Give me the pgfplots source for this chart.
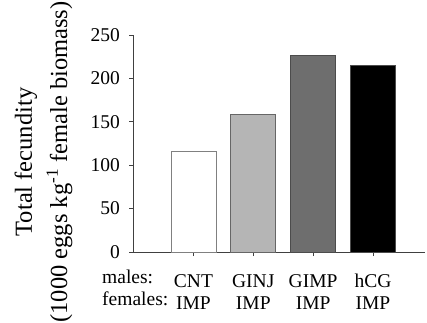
\documentclass[border=0pt]{standalone}
\usepackage{fontspec}
\setmainfont{Liberation Serif}
\usepackage{pgfplots}
\pgfplotsset{compat=1.18}
\begin{document}
\begin{tikzpicture}
\useasboundingbox (-133pt,-70pt) rectangle (294pt,252pt);
\begin{axis}[
  at={(0pt,0pt)}, anchor=south west,
  scale only axis, width=292pt, height=217pt,
  xmin=-1.01, xmax=3.87, ymin=0, ymax=250,
  axis x line*=bottom, axis y line*=left,
  axis line style={line width=0.9pt, color=black!75},
  ytick={0,50,100,150,200,250},
  xtick={0,1,2,3},
  xticklabels={{\strut CNT\\\strut IMP},{\strut GINJ\\\strut IMP},{\strut GIMP\\\strut IMP},{\strut hCG\\\strut IMP}},
  tick align=outside, major tick length=4pt,
  tick style={line width=0.8pt, color=black!75},
  /pgf/number format/assume math mode=true,
  xticklabel style={align=center, anchor=north, inner sep=0pt, yshift=-15.6pt, font=\fontsize{19.5}{22}\selectfont},
  yticklabel style={anchor=east, inner sep=0pt, xshift=-9pt, font=\fontsize{19.5}{22}\selectfont},
]
\addplot[ybar, bar width=45pt, bar shift=0pt, fill=white, draw=black!50, line width=0.8pt] coordinates {(0,116)};
\addplot[ybar, bar width=45pt, bar shift=0pt, fill=black!29, draw=black!60, line width=0.8pt] coordinates {(1,158)};
\addplot[ybar, bar width=45pt, bar shift=0pt, fill=black!57, draw=black!70, line width=0.8pt] coordinates {(2,226)};
\addplot[ybar, bar width=45pt, bar shift=0pt, fill=black, draw=black!70, line width=0.8pt] coordinates {(3,215)};
\end{axis}
\node[anchor=base west, inner sep=0pt, font=\fontsize{19.5}{22}\selectfont] at (-31pt,-31pt) {males:};
\node[anchor=base west, inner sep=0pt, font=\fontsize{19.5}{22}\selectfont] at (-31pt,-53pt) {females:};
\node[rotate=90, anchor=base, inner sep=0pt, font=\fontsize{24.5}{28}\selectfont] at (-101pt,90pt) {Total fecundity};
\node[rotate=90, anchor=base, inner sep=0pt, font=\fontsize{24.5}{28}\selectfont] at (-66pt,90pt) {(1000 eggs kg\textsuperscript{-1} female biomass)};
\end{tikzpicture}
\end{document}
